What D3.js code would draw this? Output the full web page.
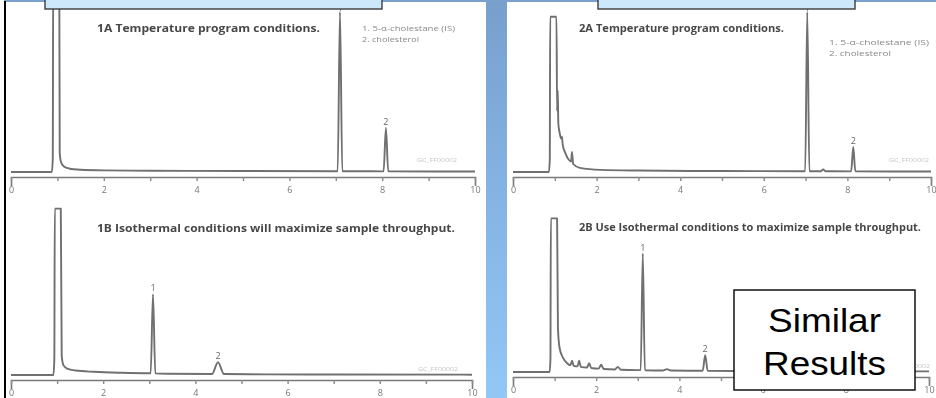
<!DOCTYPE html>
<html>
<head>
<meta charset="utf-8">
<script src="https://cdn.jsdelivr.net/npm/d3@7"></script>
<style>
  html, body { margin: 0; padding: 0; background: #fff; }
  svg { display: block; }
</style>
</head>
<body>
<svg id="chart" width="936" height="398"></svg>
<script>
// ---------------- DATA ----------------
// retention time (min) ticks
const tickValues = [0, 1, 2, 3, 4, 5, 6, 7, 8, 9, 10];
const tickLabels = ["0", "", "2", "", "4", "", "6", "", "8", "", "10"];

const panelTitles = [
  "1A Temperature program conditions.",
  "2A Temperature program conditions.",
  "1B Isothermal conditions will maximize sample throughput.",
  "2B Use Isothermal conditions to maximize sample throughput."
];
const legendLines = ["1. 5-\u03b1-cholestane (IS)", "2. cholesterol"];
const figureCode = "GC_FF00002";
const calloutLines = ["Similar", "Results"];

// chromatogram traces: [time (min), detector response (% of full scale)]
const trace1A = [
  [0, 0], [0.88, 0], [0.90, 8], [0.91, 125], [1.04, 125], [1.05, 12], [1.08, 6],
  [1.14, 3.5], [1.25, 2.2], [1.5, 1.4], [2.0, 1.0], [3.0, 0.8], [5.0, 0.6],
  [7.04, 0.5], [7.09, 100], [7.14, 0.5], [7.5, 0.5], [8.03, 0.4], [8.08, 27.5],
  [8.13, 0.4], [10, 0.3]
];
const trace2A = [
  [0, 0], [0.86, 0], [0.88, 8], [0.89, 97], [1.04, 97], [1.055, 38], [1.07, 51],
  [1.085, 30], [1.12, 24], [1.15, 21], [1.17, 22], [1.19, 17], [1.25, 12],
  [1.34, 7.5], [1.39, 6.5], [1.41, 12.5], [1.44, 5], [1.6, 2.6], [2.1, 1.3],
  [3.0, 0.9], [5.0, 0.6], [6.99, 0.5], [7.04, 100], [7.09, 0.5], [7.36, 0.5],
  [7.42, 1.6], [7.48, 0.5], [8.09, 0.4], [8.14, 15.6], [8.19, 0.4], [10, 0.3]
];
const trace1B = [
  [0, 0], [0.92, 0], [0.94, 10], [0.95, 104], [1.08, 104], [1.10, 12], [1.14, 6],
  [1.22, 4], [1.4, 2.8], [1.8, 2.0], [2.4, 1.4], [3.0, 1.1], [3.03, 1.1],
  [3.08, 50.5], [3.13, 1.0], [3.4, 0.8], [4.36, 0.6], [4.49, 8], [4.62, 0.6],
  [5.5, 0.4], [7.0, 0.3], [10, 0.2]
];
const trace2B = [
  [0, 0], [0.88, 0], [0.90, 8], [0.91, 96], [1.06, 96], [1.08, 28], [1.12, 15],
  [1.2, 9], [1.3, 5.5], [1.38, 4.2], [1.42, 7], [1.46, 3.8], [1.55, 3.5],
  [1.59, 7], [1.63, 3.2], [1.78, 2.8], [1.83, 5.5], [1.88, 2.5], [2.06, 2.1],
  [2.12, 4.5], [2.18, 1.9], [2.45, 1.6], [2.52, 3.2], [2.59, 1.4], [3.0, 1.2],
  [3.07, 1.2], [3.12, 74], [3.17, 1.1], [3.6, 0.9], [3.7, 1.8], [3.8, 0.9],
  [4.5, 0.8], [4.56, 0.8], [4.62, 10.5], [4.68, 0.8], [6.0, 0.5], [10, 0.4]
];

// peak numbers: [label, time, response]
const peaks1A = [["1", 7.09, 100], ["2", 8.08, 27.5]];
const peaks2A = [["1", 7.04, 100], ["2", 8.14, 15.6]];
const peaks1B = [["1", 3.08, 50.5], ["2", 4.49, 8]];
const peaks2B = [["1", 3.12, 74], ["2", 4.62, 10.5]];

// ---------------- LAYOUT ----------------
const panels = [
  { trace: trace1A, peaks: peaks1A, title: panelTitles[0],
    x0: 11, x1: 475, yBase: 172, yFull: 12, axisY: 177,
    titleX: 97, titleY: 32, titleW: 223,
    legendX: 362, legendY: [31, 42], legendW: [93, 57],
    codeX: 417, codeY: 162 },
  { trace: trace2A, peaks: peaks2A, title: panelTitles[1],
    x0: 513, x1: 931, yBase: 172, yFull: 12, axisY: 177,
    titleX: 579, titleY: 31.5, titleW: 205,
    legendX: 829, legendY: [45, 56], legendW: [100, 62],
    codeX: 889, codeY: 162 },
  { trace: trace1B, peaks: peaks1B, title: panelTitles[2],
    x0: 11, x1: 472, yBase: 375, yFull: 215, axisY: 380,
    titleX: 97, titleY: 232, titleW: 358,
    codeX: 418, codeY: 371 },
  { trace: trace2B, peaks: peaks2B, title: panelTitles[3],
    x0: 513, x1: 929, yBase: 372, yFull: 212, axisY: 377,
    titleX: 579, titleY: 231, titleW: 342,
    codeX: 890, codeY: 368 }
];

const svg = d3.select("#chart");
const defs = svg.append("defs");
const grad = defs.append("linearGradient").attr("id", "strip")
  .attr("x1", 0).attr("y1", 0).attr("x2", 0).attr("y2", 1);
grad.append("stop").attr("offset", "0%").attr("stop-color", "#789fcc");
grad.append("stop").attr("offset", "50%").attr("stop-color", "#85b4e4");
grad.append("stop").attr("offset", "100%").attr("stop-color", "#92c7f6");
defs.append("filter").attr("id", "soft")
  .append("feGaussianBlur").attr("stdDeviation", 0.35);

// background
svg.append("rect").attr("x", 0).attr("y", 0).attr("width", 936).attr("height", 398).attr("fill", "#fff");

const traceColor = "#6f6f6f";
const textColor = "#474747";

panels.forEach(p => {
  const x = d3.scaleLinear().domain([0, 10]).range([p.x0, p.x1]);
  const y = d3.scaleLinear().domain([0, 100]).range([p.yBase, p.yFull]);
  const g = svg.append("g").attr("filter", "url(#soft)");

  // axis
  const axis = d3.axisBottom(x)
    .tickValues(tickValues)
    .tickFormat((d, i) => tickLabels[i])
    .tickSizeInner(4).tickSizeOuter(9).tickPadding(6);
  const ag = g.append("g").attr("transform", `translate(0,${p.axisY})`).call(axis);
  ag.select(".domain").attr("stroke", "#7a7a7a").attr("stroke-width", 1.6);
  ag.selectAll(".tick line").attr("stroke", "#8a8a8a").attr("stroke-width", 1.4);
  ag.selectAll(".tick text").attr("fill", "#777").attr("font-size", 9)
    .attr("font-family", "'Open Sans', sans-serif");

  // trace
  const line = d3.line().x(d => x(d[0])).y(d => y(d[1])).curve(d3.curveMonotoneX);
  g.append("path").datum(p.trace).attr("d", line)
    .attr("fill", "none").attr("stroke", traceColor).attr("stroke-width", 1.9)
    .attr("stroke-linejoin", "round");

  // peak numbers
  g.selectAll("text.peak").data(p.peaks).enter().append("text")
    .attr("class", "peak")
    .attr("x", d => x(d[1]))
    .attr("y", d => Math.max(y(d[2]) - 3, 11))
    .attr("text-anchor", "middle")
    .attr("font-family", "'Open Sans', sans-serif")
    .attr("font-size", 9).attr("fill", "#666")
    .text(d => d[0]);

  // title
  g.append("text").attr("x", p.titleX).attr("y", p.titleY)
    .attr("font-family", "'Open Sans', sans-serif").attr("font-weight", 700)
    .attr("font-size", 10.5).attr("fill", textColor)
    .attr("textLength", p.titleW).attr("lengthAdjust", "spacingAndGlyphs")
    .text(p.title);

  // legend
  if (p.legendY) {
    legendLines.forEach((t, i) => {
      g.append("text").attr("x", p.legendX).attr("y", p.legendY[i])
        .attr("font-family", "'Open Sans', sans-serif").attr("font-size", 8)
        .attr("fill", "#8a8a8a")
        .attr("textLength", p.legendW[i]).attr("lengthAdjust", "spacingAndGlyphs")
        .text(t);
    });
  }

  // figure code
  g.append("text").attr("x", p.codeX).attr("y", p.codeY)
    .attr("font-family", "'Open Sans', sans-serif").attr("font-size", 6)
    .attr("fill", "#c4c4c4")
    .attr("textLength", 40).attr("lengthAdjust", "spacingAndGlyphs")
    .text(figureCode);
});

// slide decoration
svg.append("rect").attr("x", 486).attr("y", 0).attr("width", 21).attr("height", 398).attr("fill", "url(#strip)");
svg.append("rect").attr("x", 0).attr("y", 0).attr("width", 936).attr("height", 2).attr("fill", "#7aa1cd");
svg.append("rect").attr("x", 0).attr("y", 0).attr("width", 4).attr("height", 398).attr("fill", "#fff");
svg.append("rect").attr("x", 4).attr("y", 1).attr("width", 2).attr("height", 397).attr("fill", "#000");

// top label boxes
[[45, 382], [598, 855]].forEach(b => {
  svg.append("rect").attr("x", b[0]).attr("y", -3).attr("width", b[1] - b[0]).attr("height", 12)
    .attr("fill", "#cde8fb").attr("stroke", "#3c3c3c").attr("stroke-width", 1.4);
});

// callout box
svg.append("rect").attr("x", 734).attr("y", 290).attr("width", 181).attr("height", 100)
  .attr("fill", "#fff").attr("stroke", "#000").attr("stroke-width", 1.4);
[[332, 113], [375, 123]].forEach((c, i) => {
  svg.append("text").attr("x", 824.5).attr("y", c[0])
    .attr("text-anchor", "middle")
    .attr("font-family", "'Liberation Sans', Arial, sans-serif").attr("font-size", 34)
    .attr("fill", "#000")
    .attr("textLength", c[1]).attr("lengthAdjust", "spacingAndGlyphs")
    .text(calloutLines[i]);
});
</script>
</body>
</html>
